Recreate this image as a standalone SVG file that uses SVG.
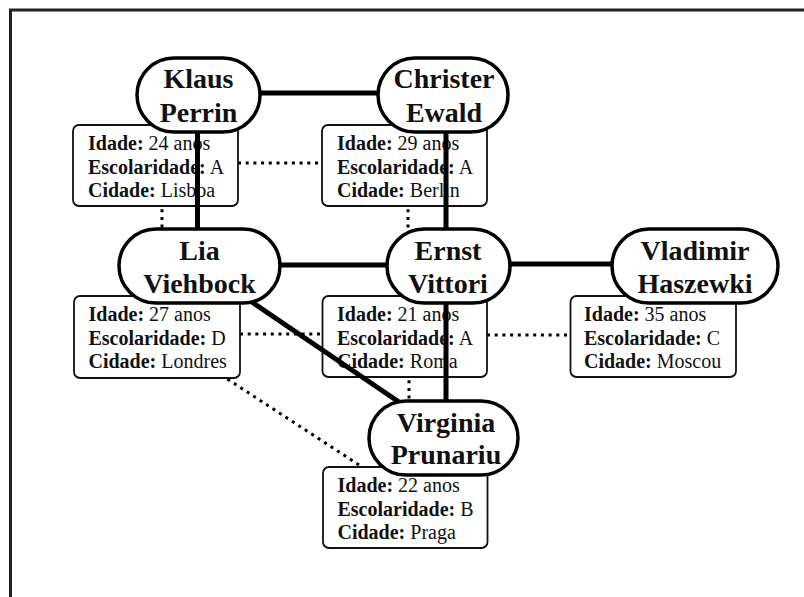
<svg xmlns="http://www.w3.org/2000/svg" width="804" height="597" viewBox="0 0 804 597">
  <style>
    .frame { fill: none; stroke: #222; stroke-width: 3; }
    .edge { fill: none; stroke: #000; stroke-width: 5; }
    .link { fill: none; stroke: #000; stroke-width: 3; stroke-dasharray: 3 4.7; }
    .info rect { fill: #fff; stroke: #111; stroke-width: 1.8; }
    .info text { font-family: "Liberation Serif", "Times New Roman", serif; font-size: 20px; fill: #111; }
    .info .k { font-weight: bold; }
    .node rect { fill: #fff; stroke: #000; stroke-width: 3.5; }
    .node text { font-family: "Liberation Serif", "Times New Roman", serif; font-size: 28px; font-weight: bold; fill: #111; text-anchor: middle; }
  </style>

  <!-- page frame (open to the right and bottom) -->
  <path class="frame" d="M10.5 600 V10 H810"/>

  <!-- dotted links between the detail cards -->
  <g id="links">
    <line class="link" x1="161" y1="163" x2="409" y2="163"/>
    <line class="link" x1="162" y1="163" x2="162" y2="334"/>
    <line class="link" x1="408" y1="163" x2="408" y2="334"/>
    <line class="link" x1="163" y1="334" x2="410" y2="334"/>
    <line class="link" x1="410" y1="335" x2="658" y2="335"/>
    <line class="link" x1="409" y1="334" x2="409" y2="504"/>
    <line class="link" x1="163" y1="337" x2="405" y2="495"/>
  </g>

  <!-- detail cards -->
  <g id="info-klaus" class="info">
    <rect x="73" y="125" width="165" height="81" rx="6"/>
    <text x="88" y="150"><tspan class="k">Idade:</tspan> 24 anos</text>
    <text x="88" y="173.5"><tspan class="k">Escolaridade:</tspan> A</text>
    <text x="88" y="197"><tspan class="k">Cidade:</tspan> Lisboa</text>
  </g>
  <g id="info-christer" class="info">
    <rect x="322" y="125" width="165" height="81" rx="6"/>
    <text x="337" y="150"><tspan class="k">Idade:</tspan> 29 anos</text>
    <text x="337" y="173.5"><tspan class="k">Escolaridade:</tspan> A</text>
    <text x="337" y="197"><tspan class="k">Cidade:</tspan> Berlin</text>
  </g>
  <g id="info-lia" class="info">
    <rect x="74" y="296" width="166" height="82" rx="6"/>
    <text x="88.5" y="321"><tspan class="k">Idade:</tspan> 27 anos</text>
    <text x="88.5" y="344.5"><tspan class="k">Escolaridade:</tspan> D</text>
    <text x="88.5" y="368"><tspan class="k">Cidade:</tspan> Londres</text>
  </g>
  <g id="info-ernst" class="info">
    <rect x="322.5" y="296" width="164.5" height="81" rx="6"/>
    <text x="337" y="321"><tspan class="k">Idade:</tspan> 21 anos</text>
    <text x="337" y="344.5"><tspan class="k">Escolaridade:</tspan> A</text>
    <text x="337" y="368"><tspan class="k">Cidade:</tspan> Roma</text>
  </g>
  <g id="info-vladimir" class="info">
    <rect x="570.5" y="296" width="165.5" height="81" rx="6"/>
    <text x="584" y="321"><tspan class="k">Idade:</tspan> 35 anos</text>
    <text x="584" y="344.5"><tspan class="k">Escolaridade:</tspan> C</text>
    <text x="584" y="368"><tspan class="k">Cidade:</tspan> Moscou</text>
  </g>
  <g id="info-virginia" class="info">
    <rect x="323" y="467" width="164.5" height="81" rx="6"/>
    <text x="337.5" y="492"><tspan class="k">Idade:</tspan> 22 anos</text>
    <text x="337.5" y="515.5"><tspan class="k">Escolaridade:</tspan> B</text>
    <text x="337.5" y="539"><tspan class="k">Cidade:</tspan> Praga</text>
  </g>

  <!-- solid relations between people -->
  <g id="edges">
    <line class="edge" x1="198" y1="93" x2="443" y2="93"/>
    <line class="edge" x1="197.5" y1="95" x2="197.5" y2="266"/>
    <line class="edge" x1="446" y1="95" x2="446" y2="266"/>
    <line class="edge" x1="199" y1="265" x2="447" y2="265"/>
    <line class="edge" x1="447" y1="264" x2="695" y2="264"/>
    <line class="edge" x1="446" y1="266" x2="446" y2="436"/>
    <line class="edge" x1="199" y1="266" x2="446" y2="434"/>
  </g>

  <!-- people -->
  <g id="node-klaus" class="node">
    <rect x="137" y="58" width="123" height="74" rx="37"/>
    <text x="198.5" y="88">Klaus</text>
    <text x="198.5" y="122">Perrin</text>
  </g>
  <g id="node-christer" class="node">
    <rect x="378" y="58" width="130" height="74" rx="37"/>
    <text x="444" y="88">Christer</text>
    <text x="444" y="122">Ewald</text>
  </g>
  <g id="node-lia" class="node">
    <rect x="119" y="229" width="161" height="74" rx="37"/>
    <text x="199.5" y="259.5">Lia</text>
    <text x="199.5" y="293">Viehbock</text>
  </g>
  <g id="node-ernst" class="node">
    <rect x="387" y="229" width="123" height="74" rx="37"/>
    <text x="448" y="259.5">Ernst</text>
    <text x="448" y="293">Vittori</text>
  </g>
  <g id="node-vladimir" class="node">
    <rect x="612" y="229" width="166" height="74" rx="37"/>
    <text x="695" y="259.5">Vladimir</text>
    <text x="695" y="293">Haszewki</text>
  </g>
  <g id="node-virginia" class="node">
    <rect x="369" y="401" width="149" height="74" rx="37"/>
    <text x="446" y="431.5">Virginia</text>
    <text x="446" y="464">Prunariu</text>
  </g>
</svg>
